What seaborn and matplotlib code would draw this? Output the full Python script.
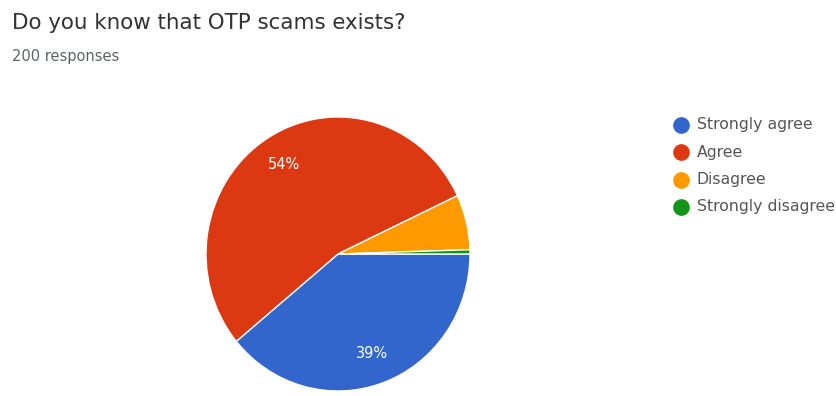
import matplotlib
matplotlib.use("Agg")
import matplotlib.pyplot as plt
import seaborn as sns
from matplotlib.lines import Line2D

# Survey answers
question = "Do you know that OTP scams exists?"
n_responses = 200
categories = ["Strongly agree", "Agree", "Disagree", "Strongly disagree"]
counts = [78, 108, 13, 1]
colors = ["#3366cc", "#dc3912", "#ff9900", "#109618"]

sns.set_theme(style="white")
plt.rcParams["font.family"] = ["DejaVu Sans"]

W, H = 837, 396
fig = plt.figure(figsize=(W / 100, H / 100), dpi=100)
fig.patch.set_facecolor("white")

# Pie occupies a box centred slightly left of the middle
cx, cy, rx, ry = 338, 254, 132, 137
ax = fig.add_axes([(cx - rx) / W, (H - cy - ry) / H, 2 * rx / W, 2 * ry / H])
palette = sns.color_palette(colors)


def pct_label(p):
    return f"{p:.0f}%" if p >= 10 else ""


wedges, texts, autotexts = ax.pie(
    counts,
    colors=palette,
    startangle=0,
    counterclock=False,
    autopct=pct_label,
    pctdistance=0.77,
    wedgeprops=dict(edgecolor="white", linewidth=1),
    textprops=dict(color="white", fontsize=10.5),
)
ax.set_aspect("auto")
ax.set_xlim(-1, 1)
ax.set_ylim(-1, 1)
ax.axis("off")

# Header
fig.text(12 / W, 1 - 23 / H, question, fontsize=15.4, va="center", ha="left",
         color="#303134")
fig.text(12 / W, 1 - 56 / H, f"{n_responses} responses", fontsize=10.5,
         va="center", ha="left", color="#5f6368")

# Legend with round swatches
for i, (lab, col) in enumerate(zip(categories, palette)):
    y = 1 - (125 + 27.3 * i) / H
    fig.add_artist(Line2D([681 / W], [y], marker="o", markersize=11,
                          markerfacecolor=col, markeredgecolor=col,
                          linestyle="", transform=fig.transFigure))
    fig.text(697 / W, y, lab, fontsize=11.3, va="center", ha="left",
             color="#555555")

fig.savefig("out.png", dpi=100, facecolor="white")
